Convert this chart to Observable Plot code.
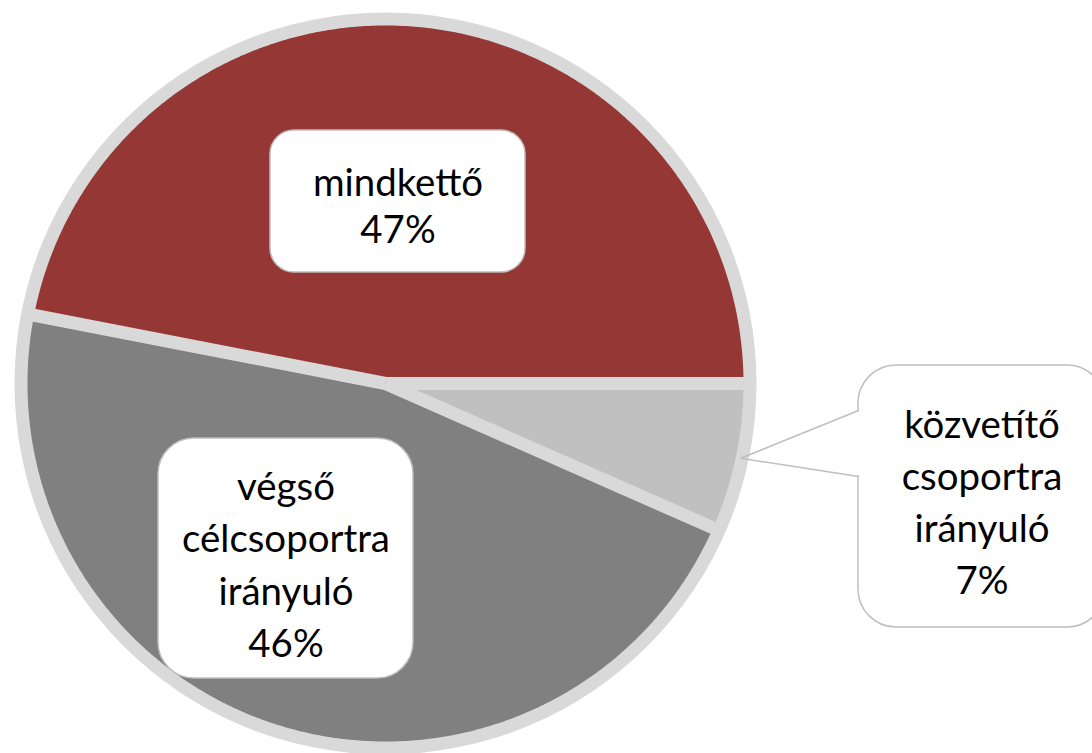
<!DOCTYPE html>
<html><head><meta charset="utf-8">
<script src="https://cdn.jsdelivr.net/npm/d3@7"></script>
<script src="https://cdn.jsdelivr.net/npm/@observablehq/plot@0.6"></script>
<style>html,body{margin:0;padding:0;background:#fff;} svg{display:block}</style>
</head><body><div id="chart"></div>
<script>
// ---- data ----
const categories = ["mindkettő", "végső célcsoportra irányuló", "közvetítő csoportra irányuló"];
const values = [46.9, 46.4, 6.6];
const labelLines = [["mindkettő"], ["végső", "célcsoportra", "irányuló"], ["közvetítő", "csoportra", "irányuló"]];

// ---- styles & layout ----
const colors = ["#953735", "#808080", "#c0c0c0"];
const ringColor = "#d9d9d9";
const boxStroke = "#bfbfbf";
const FONT = "Lato, 'Open Sans', sans-serif";
const W = 1092, H = 753;
const cx = 385, cy = 383, R = 358, ringR = 371, gapW = 13;
const boxes = [
  {x1: 270, x2: 525, y1: 130, y2: 272, rx: 24, fs: 40, lh: 47},
  {x1: 158, x2: 413, y1: 438, y2: 678, rx: 36, fs: 40, lh: 52.5},
  {x1: 858, x2: 1105, y1: 365, y2: 627, rx: 38, fs: 40, lh: 52, pointer: [410, 476]}
];

const ux = px => (px - cx) / R;
const uy = py => (cy - py) / R;

// font scaling: match Calibri metrics of the reference
const ctx = document.createElement("canvas").getContext("2d");
ctx.font = "40px " + FONT;
const fontScale = 208 / ctx.measureText("célcsoportra").width;

// ---- geometry from values ----
const total = d3.sum(values);
const slices = [];
let cum = 0;
values.forEach((v, i) => {
  const a0 = 2 * Math.PI * cum / total;
  cum += v;
  const a1 = 2 * Math.PI * cum / total;
  slices.push({cat: categories[i], a0, a1, mid: (a0 + a1) / 2, pct: Math.round(v / total * 100) + "%"});
});
const slicePts = [];
slices.forEach(s => {
  slicePts.push({cat: s.cat, x: 0, y: 0});
  const n = Math.max(2, Math.ceil((s.a1 - s.a0) / (Math.PI / 360)));
  for (let k = 0; k <= n; k++) {
    const a = s.a0 + (s.a1 - s.a0) * k / n;
    slicePts.push({cat: s.cat, x: Math.cos(a), y: Math.sin(a)});
  }
});
const dividers = slices.map(s => ({x2: Math.cos(s.a0) * (ringR - 3) / R, y2: Math.sin(s.a0) * (ringR - 3) / R}));

const marks = [
  Plot.dot([{x: 0, y: 0}], {x: "x", y: "y", r: ringR, fill: ringColor, stroke: null}),
  Plot.line(slicePts, {x: "x", y: "y", z: "cat", fill: "cat", stroke: null, curve: "linear-closed"}),
  Plot.link(dividers, {x1: 0, y1: 0, x2: "x2", y2: "y2", stroke: ringColor, strokeWidth: gapW, strokeLinecap: "butt"})
];

boxes.forEach((b, i) => {
  const s = slices[i];
  marks.push(Plot.rect([b], {x1: d => ux(d.x1), x2: d => ux(d.x2), y1: d => uy(d.y1), y2: d => uy(d.y2),
    fill: "white", stroke: boxStroke, strokeWidth: 1.5, rx: b.rx}));
  if (b.pointer) {
    const tip = {x: Math.cos(s.mid) * (ringR - 8) / R, y: Math.sin(s.mid) * (ringR - 8) / R};
    marks.push(Plot.rect([b], {x1: d => ux(d.x1 - 1.5), x2: d => ux(d.x1 + 2), y1: d => uy(d.pointer[0] + 0.5), y2: d => uy(d.pointer[1] - 0.5), fill: "white"}));
    marks.push(Plot.line([
      {x: ux(b.x1), y: uy(b.pointer[0])}, tip, {x: ux(b.x1), y: uy(b.pointer[1])}
    ], {x: "x", y: "y", stroke: boxStroke, strokeWidth: 1.5, strokeLinejoin: "miter"}));
  }
  const fs = b.fs * fontScale;
  marks.push(Plot.text([b], {
    x: d => ux((d.x1 + d.x2) / 2), y: d => uy((d.y1 + d.y2) / 2),
    text: () => labelLines[i].concat([s.pct]).join("\n"),
    fontSize: fs, lineHeight: b.lh / fs, fontFamily: FONT, fill: "#000",
    textAnchor: "middle", lineAnchor: "middle", dy: 3
  }));
});

const chart = Plot.plot({
  width: W, height: H,
  x: {domain: [-1, 1], range: [cx - R, cx + R], axis: null},
  y: {domain: [-1, 1], range: [cy + R, cy - R], axis: null},
  color: {domain: categories, range: colors},
  style: {background: "white", overflow: "visible"},
  marks
});
document.getElementById("chart").appendChild(chart);
</script>
</body></html>
